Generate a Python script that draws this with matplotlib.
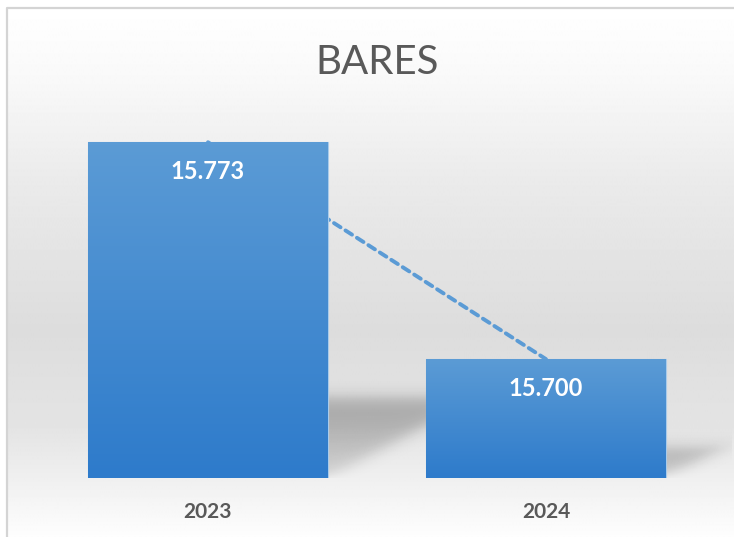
import matplotlib
matplotlib.use("Agg")
import matplotlib.pyplot as plt
import numpy as np

years = ["2023", "2024"]
values = [15773, 15700]
title = "BARES"

plt.rcParams["font.family"] = ["Lato", "DejaVu Sans"]

W, H = 734, 537
fig = plt.figure(figsize=(W / 100, H / 100), dpi=100)

# background: white page, light frame, soft vertical gray gradient
bg = fig.add_axes([0, 0, 1, 1])
bg.set_xlim(0, W)
bg.set_ylim(H, 0)
bg.axis("off")
stops_y = [8, 80, 180, 330, 430, 480, 537]
stops_v = [1.0, 0.975, 0.92, 0.865, 0.895, 0.94, 0.995]
rows = np.interp(np.arange(8, H + 1), stops_y, stops_v)
grad = np.repeat(rows[:, None], 4, axis=1)
bg.imshow(grad, extent=[7, W + 5, H, 8], cmap="gray", vmin=0, vmax=1,
          aspect="auto", interpolation="bilinear")
bg.plot([7, 7, W + 5], [H + 5, 8, 8], color="#d4d4d4", lw=1.6)

# main plot area
ax = fig.add_axes([39 / W, 59 / H, 676 / W, 416 / H])
ax.patch.set_visible(False)
for s in ax.spines.values():
    s.set_visible(False)

x = np.arange(len(years))
ylo, yhi = 15660, 15800
bw = 0.71
px_x = 676 / 2.0
px_y = 416 / (yhi - ylo)

# shadows behind bars
gx = np.linspace(-0.5, 1.55, 720)
gy = np.linspace(ylo, yhi, 300)
GX, GY = np.meshgrid(gx, gy)
alpha = np.zeros_like(GX)
sig = lambda d, s: 1 / (1 + np.exp(-d / s))
for xi, v in zip(x, values):
    h = (v - ylo) * px_y
    kh = 0.235 * h
    u = (GY - ylo) * px_y
    vx = GX * px_x
    x0 = (xi - bw / 2) * px_x
    x1 = (xi + bw / 2) * px_x
    a = sig(kh - u, 5) * sig(x1 + 1.9 * u - vx, 9) * sig(vx - x0 - 25, 5) * sig(u, 2)
    a *= 0.4 + 0.6 * np.clip(u / kh, 0, 1)
    alpha = np.maximum(alpha, a)
shadow = np.zeros(GX.shape + (4,))
shadow[..., 3] = 0.28 * alpha
ax.imshow(shadow, extent=[-0.5, 1.55, ylo, yhi], origin="lower",
          aspect="auto", zorder=1, interpolation="bilinear", clip_on=False)

# linear trendline (drawn behind the bars)
coef = np.polyfit(x, values, 1)
trend = np.polyval(coef, x)
tl, = ax.plot(x, trend, color="#5b9bd5", lw=2.8, zorder=2,
              dash_capstyle="round")
tl.set_dashes((2.0, 1.5))

bars = ax.bar(x, values, width=bw, bottom=0, color="#5b9bd5",
              edgecolor="#a9cbea", linewidth=0.8, zorder=3)

blue_grad = np.linspace(0, 1, 100)[:, None]
cmap = matplotlib.colors.LinearSegmentedColormap.from_list(
    "b", ["#5b9bd5", "#2e7bcb"])
for b in bars:
    bx, by = b.get_x(), b.get_height()
    im = ax.imshow(blue_grad, extent=[bx, bx + b.get_width(), ylo, by],
                   cmap=cmap, aspect="auto", zorder=3.5, origin="upper")
    im.set_clip_path(b)

for xi, v in zip(x, values):
    ax.annotate(f"{v:,}".replace(",", "."), (xi, v), xytext=(0, -29),
                textcoords="offset pixels", ha="center", va="center",
                color="white", fontsize=17, fontweight="bold", zorder=5)

ax.set_xlim(-0.5, 1.5)
ax.set_ylim(ylo, yhi)
ax.set_yticks([])
ax.set_xticks(x)
ax.set_xticklabels(years, fontsize=15, fontweight="bold", color="#595959")
ax.tick_params(axis="x", length=0, pad=17)

fig.text(377 / W, 1 - 62 / H, title, ha="center", va="center",
         fontsize=29, fontweight="normal", color="#595959")

fig.savefig("out.png", dpi=100)
